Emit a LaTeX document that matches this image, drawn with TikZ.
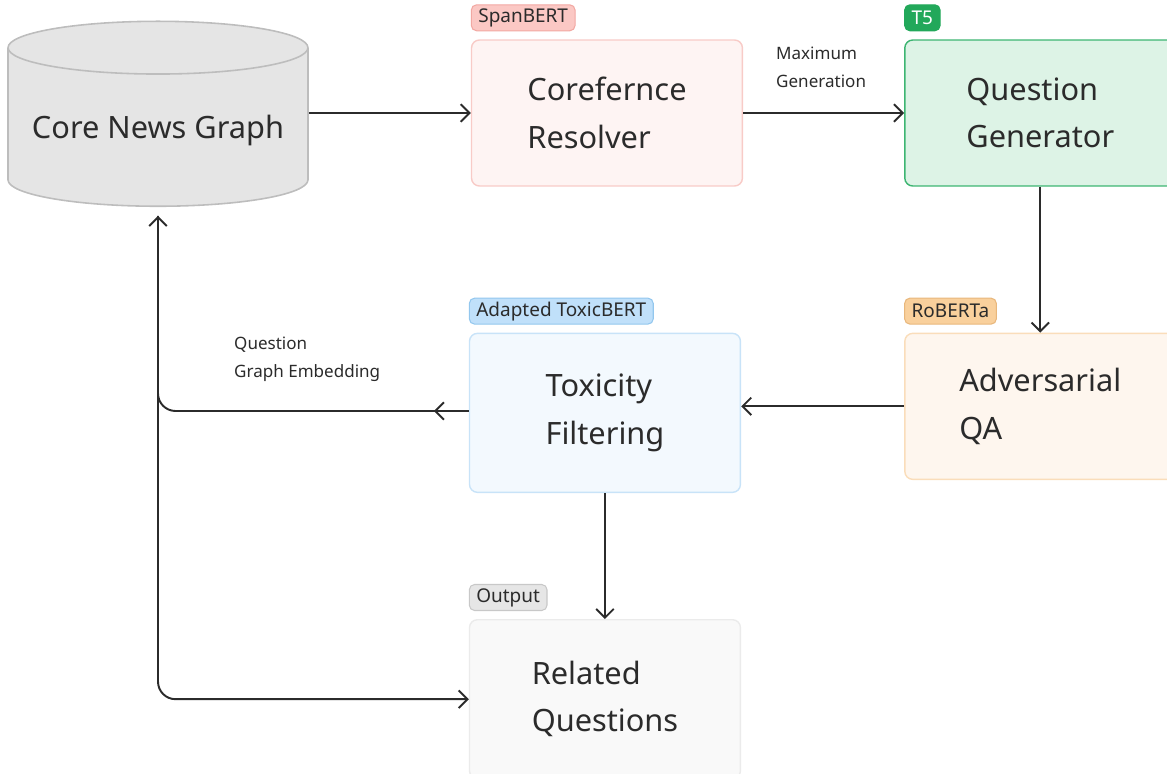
\documentclass[tikz,border=0pt]{standalone}
\usepackage{fontspec}
\setmainfont{Noto Sans}
\usetikzlibrary{positioning,shapes.geometric,arrows.meta,decorations.markings}

\definecolor{ink}{HTML}{2B2B2B}
\definecolor{cylfill}{HTML}{E5E5E5}
\definecolor{cylline}{HTML}{BDBDBD}
\definecolor{redfill}{HTML}{FEF4F3}
\definecolor{redline}{HTML}{F8CBC7}
\definecolor{redtag}{HTML}{FBC8C4}
\definecolor{redtagline}{HTML}{F2A8A2}
\definecolor{greenfill}{HTML}{DDF3E6}
\definecolor{greenline}{HTML}{3DB572}
\definecolor{greentag}{HTML}{22A85A}
\definecolor{orangefill}{HTML}{FEF6EE}
\definecolor{orangeline}{HTML}{FADDBA}
\definecolor{orangetag}{HTML}{F9D09C}
\definecolor{orangetagline}{HTML}{E8B77C}
\definecolor{bluefill}{HTML}{F3F9FE}
\definecolor{blueline}{HTML}{C8E3F8}
\definecolor{bluetag}{HTML}{C0E0FA}
\definecolor{bluetagline}{HTML}{93C7EE}
\definecolor{greyfill}{HTML}{F9F9F9}
\definecolor{greyline}{HTML}{EBEBEB}
\definecolor{greytag}{HTML}{E6E6E6}
\definecolor{greytagline}{HTML}{C8C8C8}

\tikzset{
  block/.style={draw,rounded corners=4.5pt,line width=0.8pt,minimum width=5.42cm,minimum height=2.92cm,align=left,text=ink,font=\fontsize{17.5}{27}\selectfont},
  tag/.style={draw,rounded corners=3pt,line width=0.6pt,inner xsep=4pt,inner ysep=0pt,minimum height=0.52cm,text=ink,font=\fontsize{10.8}{12}\selectfont},
  wire/.style={draw=ink,line width=1.1pt,-{Straight Barb[length=5pt,width=10pt]}},
  note/.style={align=left,text=ink,font=\fontsize{9.7}{16}\selectfont,anchor=west}
}

\begin{document}
\begin{tikzpicture}[x=0.02cm,y=-0.02cm]
  \useasboundingbox (0,0) rectangle (1167,774);
  \clip (0,0) rectangle (1167,774);

  % store
  \node (cng) [cylinder,shape border rotate=90,aspect=0.2,draw=cylline,fill=cylfill,line width=0.9pt,minimum width=6cm,minimum height=3.7cm,text=ink,font=\fontsize{17.5}{27}\selectfont] at (158,131) {Core News Graph};

  % pipeline
  \node (coref) [block,draw=redline,fill=redfill,right=3.24cm of cng,yshift=0.36cm] {Corefernce\\Resolver};
  \node (qgen) [block,draw=greenline,fill=greenfill,right=3.22cm of coref] {Question\\Generator};
  \node (advqa) [block,draw=orangeline,fill=orangefill,below=2.92cm of qgen] {Adversarial\\QA};
  \node (toxf) [block,draw=blueline,fill=bluefill,minimum height=3.18cm,left=3.26cm of advqa.north west,anchor=north east] {Toxicity\\Filtering};
  \node (relq) [block,draw=greyline,fill=greyfill,minimum height=3.18cm,below=2.52cm of toxf] {Related\\Questions};

  % model tags
  \node (spanbert) [tag,draw=redtagline,fill=redtag,above=0.16cm of coref.north west,anchor=south west] {SpanBERT};
  \node (tfive) [tag,draw=greentag,fill=greentag,text=white,above=0.16cm of qgen.north west,anchor=south west] {T5};
  \node (roberta) [tag,draw=orangetagline,fill=orangetag,above=0.16cm of advqa.north west,anchor=south west] {RoBERTa};
  \node (toxicbert) [tag,draw=bluetagline,fill=bluetag,above=0.16cm of toxf.north west,anchor=south west] {Adapted ToxicBERT};
  \node (outtag) [tag,draw=greytagline,fill=greytag,above=0.16cm of relq.north west,anchor=south west] {Output};

  % flow
  \draw [wire] (cng.east |- coref.west) -- (coref.west);
  \draw [wire] (coref.east) -- (qgen.west);
  \node (maxgen) [note] at (770,67) {Maximum\\Generation};
  \draw [wire] (qgen.south) -- (advqa.north);
  \draw [wire] (advqa.west) -- (advqa.west -| toxf.east);
  \draw [wire] (toxf.south) -- (relq.north);

  % feedback
  \coordinate (fb) at (158,411);
  \draw [wire,rounded corners=10pt,postaction={decorate,decoration={markings,mark=at position 0.7cm with {\arrow{Straight Barb[length=5pt,width=10pt]}}}}] (toxf.west |- fb) -- (fb) -- ([yshift=-5pt]cng.south);
  \draw [wire,rounded corners=10pt] ([yshift=-5pt]cng.south) -- (fb |- relq.west) -- (relq.west);
  \node (qge) [note] at (228,359) {Question\\Graph Embedding};
\end{tikzpicture}
\end{document}
